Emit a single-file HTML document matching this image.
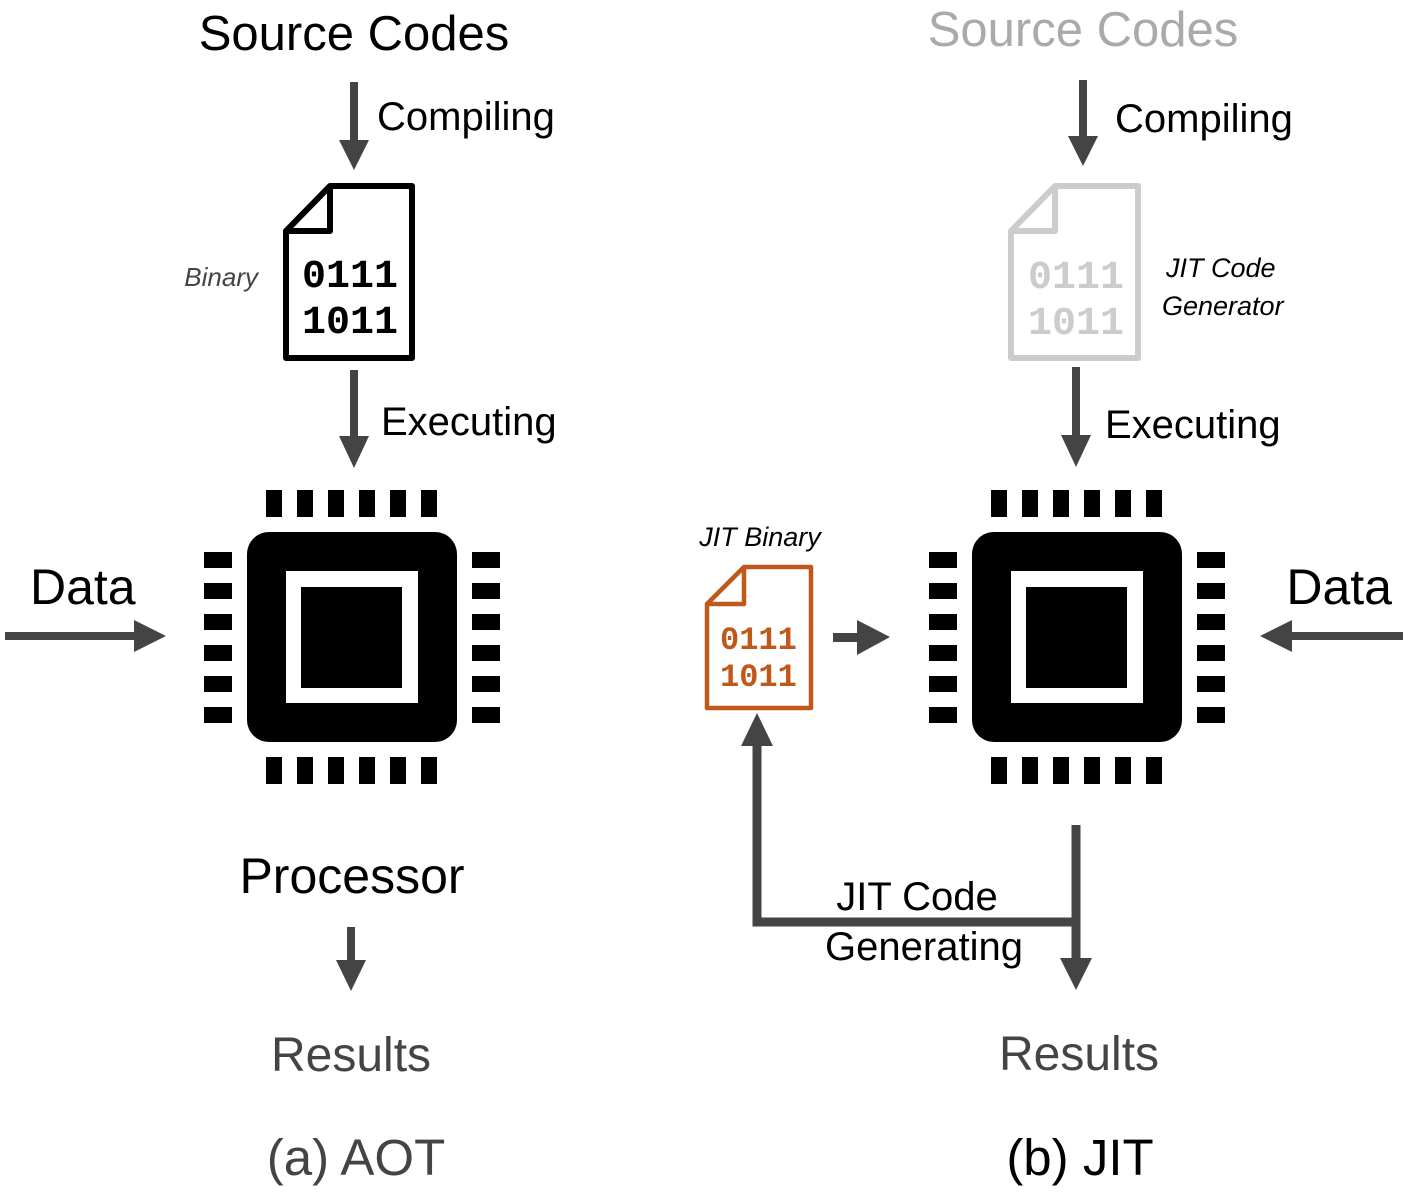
<!DOCTYPE html>
<html><head><meta charset="utf-8"><style>
html,body{margin:0;padding:0;background:#fff}
svg{display:block}
text{font-family:"Liberation Sans",sans-serif}
.d{font-family:"Liberation Mono",monospace;font-weight:bold}
</style></head><body>
<svg width="1413" height="1195" viewBox="0 0 1413 1195" xmlns="http://www.w3.org/2000/svg">
<defs>
<g id="chip">
  <rect x="247" y="532" width="210" height="210" rx="22" fill="#000"/>
  <rect x="286" y="571" width="132" height="132" fill="#fff"/>
  <rect x="301" y="587" width="101" height="101" fill="#000"/>
  <g fill="#000">
    <rect x="266" y="490" width="16" height="27"/><rect x="297" y="490" width="16" height="27"/><rect x="328" y="490" width="16" height="27"/><rect x="359" y="490" width="16" height="27"/><rect x="390" y="490" width="16" height="27"/><rect x="421" y="490" width="16" height="27"/>
    <rect x="266" y="757" width="16" height="27"/><rect x="297" y="757" width="16" height="27"/><rect x="328" y="757" width="16" height="27"/><rect x="359" y="757" width="16" height="27"/><rect x="390" y="757" width="16" height="27"/><rect x="421" y="757" width="16" height="27"/>
    <rect x="204" y="552" width="28" height="16"/><rect x="204" y="583" width="28" height="16"/><rect x="204" y="614" width="28" height="16"/><rect x="204" y="645" width="28" height="16"/><rect x="204" y="676" width="28" height="16"/><rect x="204" y="707" width="28" height="16"/>
    <rect x="472" y="552" width="28" height="16"/><rect x="472" y="583" width="28" height="16"/><rect x="472" y="614" width="28" height="16"/><rect x="472" y="645" width="28" height="16"/><rect x="472" y="676" width="28" height="16"/><rect x="472" y="707" width="28" height="16"/>
  </g>
</g>
</defs>

<!-- Left side -->
<text x="354" y="50" font-size="49" text-anchor="middle" fill="#000">Source Codes</text>
<rect x="350" y="82" width="8" height="60" fill="#444"/><polygon points="339,140 369,140 354,170" fill="#444"/>
<text x="377" y="130" font-size="40" fill="#000">Compiling</text>

<path d="M286,231 L330,186 L412,186 L412,358 L286,358 Z" fill="none" stroke="#000" stroke-width="6" stroke-linejoin="round"/>
<path d="M286,231 L330,231 L330,186" fill="none" stroke="#000" stroke-width="6" stroke-linejoin="round"/>
<text class="d" x="302" y="287" font-size="40" fill="#000">0111</text>
<text class="d" x="302" y="333" font-size="40" fill="#000">1011</text>
<text x="258" y="286" font-size="26" font-style="italic" fill="#444" text-anchor="end">Binary</text>

<rect x="350" y="370" width="8" height="68" fill="#444"/><polygon points="339,436 369,436 354,468" fill="#444"/>
<text x="381" y="435" font-size="40" fill="#000">Executing</text>

<use href="#chip"/>
<text x="30" y="604" font-size="50" fill="#000">Data</text>
<rect x="5" y="632" width="132" height="8" fill="#444"/><polygon points="134,620 134,652 166,636" fill="#444"/>

<text x="352" y="893" font-size="50" text-anchor="middle" fill="#000">Processor</text>
<rect x="347" y="927" width="8" height="36" fill="#444"/><polygon points="336,960 366,960 351,991" fill="#444"/>
<text x="351" y="1071" font-size="48" text-anchor="middle" fill="#444">Results</text>
<text x="356" y="1175" font-size="51" text-anchor="middle" fill="#444">(a) AOT</text>

<!-- Right side -->
<text x="1083" y="46" font-size="49" text-anchor="middle" fill="#aaa">Source Codes</text>
<rect x="1079" y="80" width="8" height="58" fill="#444"/><polygon points="1068,136 1098,136 1083,166" fill="#444"/>
<text x="1115" y="132" font-size="40" fill="#000">Compiling</text>

<path d="M1011,231 L1055,186 L1138,186 L1138,358 L1011,358 Z" fill="none" stroke="#ccc" stroke-width="6" stroke-linejoin="round"/>
<path d="M1011,231 L1055,231 L1055,186" fill="none" stroke="#ccc" stroke-width="6" stroke-linejoin="round"/>
<text class="d" x="1028" y="288" font-size="40" fill="#ccc">0111</text>
<text class="d" x="1028" y="334" font-size="40" fill="#ccc">1011</text>
<text x="1166" y="277" font-size="27" font-style="italic" fill="#000">JIT Code</text>
<text x="1162" y="315" font-size="27" font-style="italic" fill="#000">Generator</text>

<rect x="1072" y="367" width="8" height="70" fill="#444"/><polygon points="1061,435 1091,435 1076,467" fill="#444"/>
<text x="1105" y="438" font-size="40" fill="#000">Executing</text>

<use href="#chip" transform="translate(725,0)"/>
<text x="1392" y="604" font-size="50" text-anchor="end" fill="#000">Data</text>
<rect x="1290" y="632" width="113" height="8" fill="#444"/><polygon points="1292,620 1292,652 1260,636" fill="#444"/>

<text x="760" y="546" font-size="27" font-style="italic" text-anchor="middle" fill="#000">JIT Binary</text>
<path d="M707,604 L744,567 L811,567 L811,708 L707,708 Z" fill="none" stroke="#c0581a" stroke-width="4.5" stroke-linejoin="round"/>
<path d="M707,604 L744,604 L744,567" fill="none" stroke="#c0581a" stroke-width="4.5" stroke-linejoin="round"/>
<text class="d" x="720" y="649" font-size="32" fill="#c0581a">0111</text>
<text class="d" x="720" y="686" font-size="32" fill="#c0581a">1011</text>

<rect x="833" y="633" width="26" height="9" fill="#444"/><polygon points="857,620 857,655 890,637" fill="#444"/>

<path d="M1076,825 L1076,960 M1076,922 L757,922 L757,745" fill="none" stroke="#444" stroke-width="9"/>
<polygon points="1060,958 1092,958 1076,990" fill="#444"/>
<polygon points="741,746 773,746 757,713" fill="#444"/>
<text x="917" y="910" font-size="40" text-anchor="middle" fill="#000">JIT Code</text>
<text x="924" y="960" font-size="40" text-anchor="middle" fill="#000">Generating</text>

<text x="1079" y="1070" font-size="48" text-anchor="middle" fill="#444">Results</text>
<text x="1080" y="1175" font-size="51" text-anchor="middle" fill="#000">(b) JIT</text>
</svg>
</body></html>
